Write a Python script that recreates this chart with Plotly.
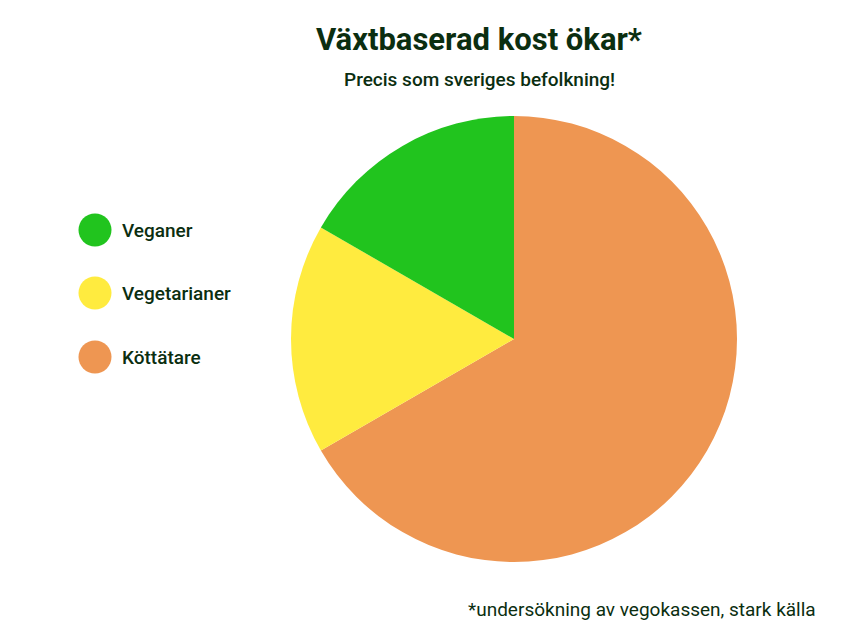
import plotly.graph_objects as go

categories = ["Veganer", "Vegetarianer", "Köttätare"]
values = [1, 1, 4]
colors = ["#21c41e", "#ffeb3f", "#ee9652"]

title_text = "Växtbaserad kost ökar*"
subtitle_text = "Precis som sveriges befolkning!"
footer_text = "*undersökning av vegokassen, stark källa"

W, H = 858, 636
TXT = "#0b2e10"
FONT = "Roboto"

# slices run counterclockwise from 12 o'clock in legend order,
# i.e. clockwise in reversed order
fig = go.Figure(go.Pie(
    labels=categories[::-1],
    values=values[::-1],
    marker=dict(colors=colors[::-1], line=dict(width=0)),
    sort=False,
    direction="clockwise",
    rotation=0,
    textinfo="none",
    hoverinfo="label+percent",
    showlegend=False,
    domain=dict(x=[291 / W, 737 / W], y=[1 - 562 / H, 1 - 116 / H]),
))

shapes = []
annotations = []
legend_y = [230, 293, 357]
for cat, col, py in zip(categories, colors, legend_y):
    r = 16.5
    shapes.append(dict(type="circle", xref="paper", yref="paper",
                       x0=(95 - r) / W, x1=(95 + r) / W,
                       y0=1 - (py + r) / H, y1=1 - (py - r) / H,
                       fillcolor=col, line=dict(width=0)))
    annotations.append(dict(text=cat, xref="paper", yref="paper",
                            x=120 / W, y=1 - py / H, xanchor="left", yanchor="middle",
                            showarrow=False,
                            font=dict(family=FONT, size=19, color=TXT, weight=500)))

annotations.append(dict(text=title_text, xref="paper", yref="paper",
                        x=479 / W, y=1 - 40 / H, xanchor="center", yanchor="middle",
                        showarrow=False,
                        font=dict(family=FONT, size=31, color=TXT, weight=700)))
annotations.append(dict(text=subtitle_text, xref="paper", yref="paper",
                        x=479 / W, y=1 - 80 / H, xanchor="center", yanchor="middle",
                        showarrow=False,
                        font=dict(family=FONT, size=19, color=TXT, weight=500)))
annotations.append(dict(text=footer_text, xref="paper", yref="paper",
                        x=818 / W, y=1 - 609 / H, xanchor="right", yanchor="middle",
                        showarrow=False,
                        font=dict(family=FONT, size=19, color=TXT, weight=400)))

fig.update_layout(
    width=W, height=H,
    margin=dict(l=0, r=0, t=0, b=0),
    paper_bgcolor="white",
    plot_bgcolor="white",
    shapes=shapes,
    annotations=annotations,
)

fig.write_html("out.html")
